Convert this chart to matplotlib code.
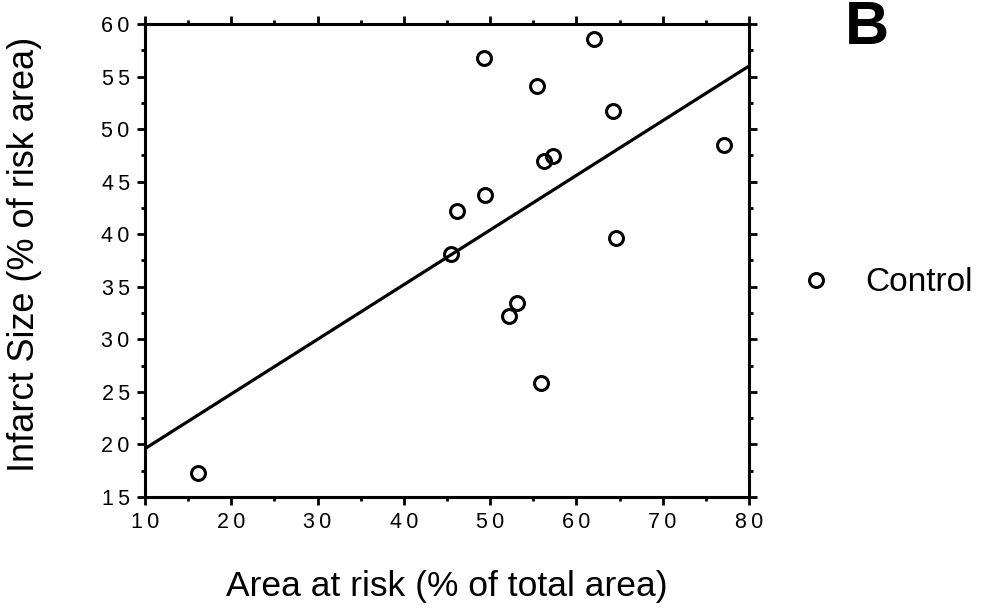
import matplotlib
matplotlib.use("Agg")
import matplotlib.pyplot as plt
from matplotlib.ticker import MultipleLocator, FixedLocator

plt.rcParams['font.family'] = ['Liberation Sans', 'DejaVu Sans']

# Data
area_at_risk = [16.1, 45.5, 46.2, 49.4, 49.3, 55.4, 62.0, 64.2, 56.3, 57.3,
                77.1, 64.6, 53.1, 52.2, 55.9]
infarct_size = [17.3, 38.1, 42.2, 43.7, 56.8, 54.1, 58.6, 51.7, 47.0, 47.4,
                48.5, 39.6, 33.5, 32.2, 25.8]
fit_x = [10, 80]
fit_y = [19.6, 56.0]
x_ticks = [10, 20, 30, 40, 50, 60, 70, 80]
y_ticks = [15, 20, 25, 30, 35, 40, 45, 50, 55, 60]
series_name = "Control"
panel_label = "B"

def spaced(v):
    return "\u2009".join(str(v))

fig = plt.figure(figsize=(9.89, 6.11), dpi=100)
ax = fig.add_axes([0.1466, 0.1866, 0.6107, 0.7741])

ax.plot(fit_x, fit_y, color='black', lw=2.3, solid_capstyle='butt', zorder=2)
ax.plot(area_at_risk, infarct_size, linestyle='none', marker='o',
        markersize=10, markerfacecolor='none', markeredgecolor='black',
        markeredgewidth=2.2, zorder=3)

ax.set_xlim(10, 80)
ax.set_ylim(15, 60)
ax.xaxis.set_major_locator(FixedLocator(x_ticks))
ax.yaxis.set_major_locator(FixedLocator(y_ticks))
ax.set_xticklabels([spaced(v) for v in x_ticks])
ax.set_yticklabels([spaced(v) for v in y_ticks])
ax.xaxis.set_minor_locator(MultipleLocator(5))
ax.yaxis.set_minor_locator(MultipleLocator(2.5))

for s in ax.spines.values():
    s.set_linewidth(2.2)
ax.tick_params(which='both', direction='out', top=True, right=True,
               labeltop=False, labelright=False, width=2, colors='black')
ax.tick_params(which='major', length=6, labelsize=15.5, pad=5)
ax.tick_params(which='minor', length=3)

ax.set_xlabel("Area at risk (% of total area)", fontsize=25.5, va='center')
ax.set_ylabel("Infarct Size (% of risk area)", fontsize=26, va='center')
ax.xaxis.set_label_coords(0.5, -0.190)
ax.yaxis.set_label_coords(-0.199, 0.512)

fig.text(0.877, 1 - 44 / 611, panel_label, fontsize=44, fontweight='bold',
         ha='center', va='baseline')

ax.plot([], [], linestyle='none', marker='o', markersize=10,
        markerfacecolor='none', markeredgecolor='black', markeredgewidth=2.2,
        label=series_name)
fig.legend(loc='center left', bbox_to_anchor=(0.808, 0.537), frameon=False,
           fontsize=24, handlelength=1.0, handletextpad=0.98,
           borderpad=0, borderaxespad=0)

fig.savefig("out.png", dpi=100, facecolor='white')
